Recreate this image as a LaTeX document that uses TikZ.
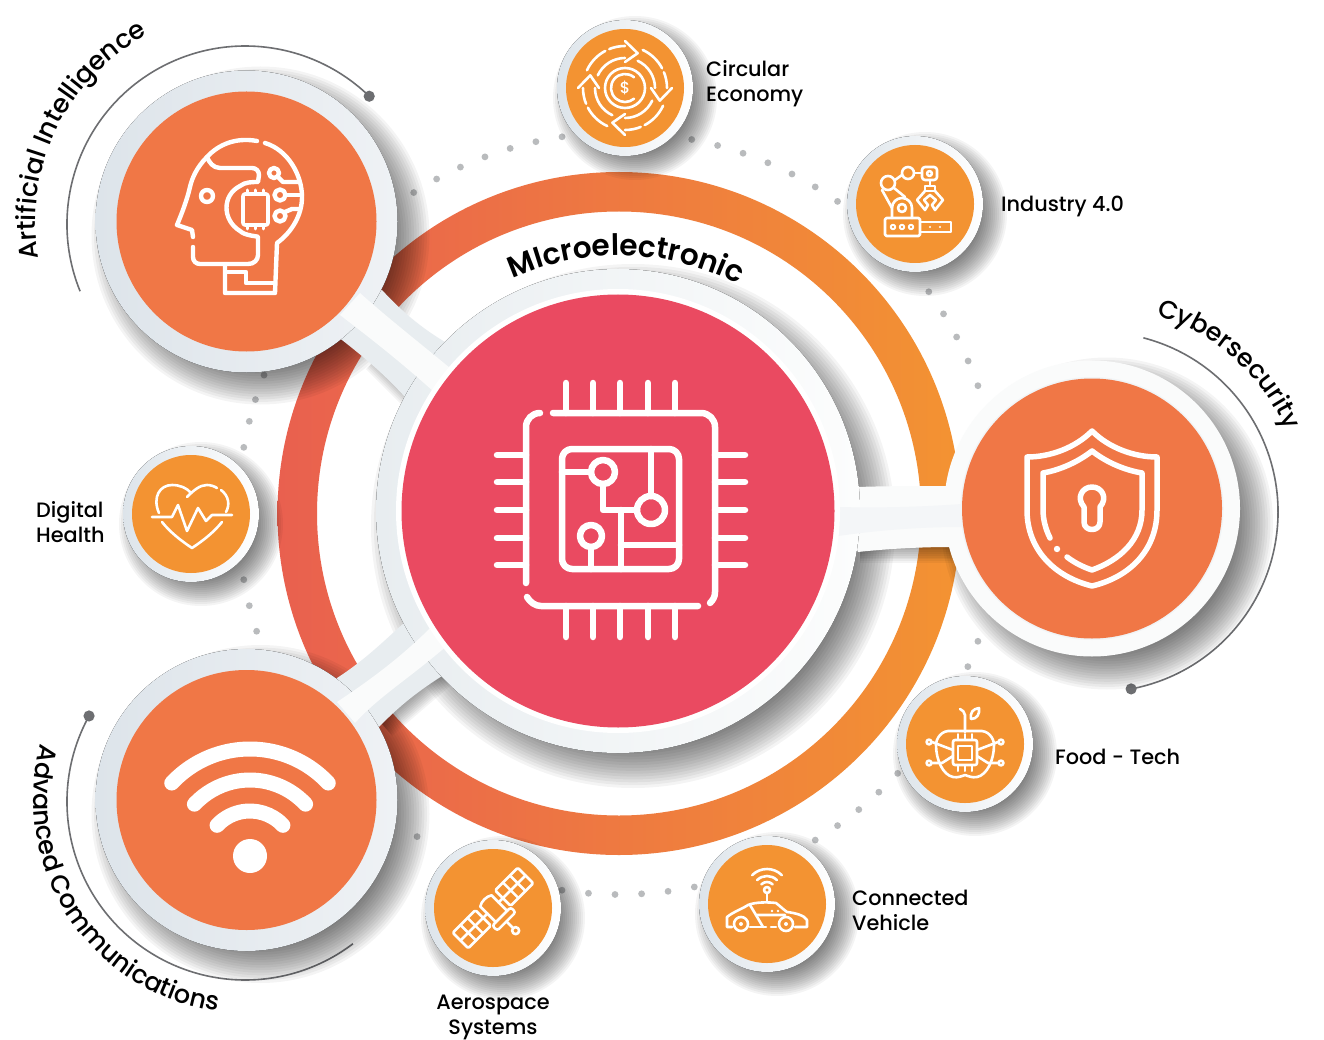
\documentclass[tikz,border=0pt]{standalone}
\usepackage{fontspec}
\setmainfont{Poppins Medium}
\newfontfamily\hubfamily{Poppins SemiBold}
\usetikzlibrary{decorations.text}
\definecolor{bigorange}{HTML}{F07746}
\definecolor{smallorange}{HTML}{F39332}
\definecolor{ringcoral}{HTML}{E9604F}
\definecolor{chipred}{HTML}{EA4A61}
\definecolor{ringleft}{HTML}{DDE4EA}
\definecolor{ringright}{HTML}{EFF2F5}
\definecolor{hubleft}{HTML}{E8EDF0}
\definecolor{hubright}{HTML}{FCFDFD}
\definecolor{bandgrey}{HTML}{E8EDF0}
\definecolor{stripewhite}{HTML}{FAFBFB}
\definecolor{dotgrey}{HTML}{B9BBBD}
\definecolor{arcgrey}{HTML}{6D6E71}
\tikzset{
  bigring/.style={left color=ringleft,right color=ringright},
  hubring/.style={left color=hubleft,right color=hubright},
  smallring/.style={left color=ringleft,right color=white},
  icon/.style={draw=white,line width=6.5pt,line cap=round,line join=round},
  headicon/.style={draw=white,line width=4.4pt,line cap=round,line join=round},
  tinyicon/.style={draw=white,line width=2.6pt,line cap=round,line join=round},
  thinarc/.style={draw=arcgrey,line width=1.6pt},
  tag/.style={font=\fontsize{20.8}{25}\selectfont,align=left,anchor=west,inner sep=0pt},
}
\newcommand{\softshadow}[4]{\foreach \k in {0,...,14} {\fill[black,opacity=.045] ([shift={(#3,-#3)}]#1) circle ({#2+#4-\k*2*#4/14});}}
\newcommand{\spokeshadow}[3]{\foreach \k in {0,...,10} {\draw[black,opacity=.045,line width={#3+18-\k*3.6}] #1 -- #2;}}
\newcommand{\curvefont}{\fontsize{25.5}{26}\selectfont}
\newcommand{\mindfont}{\fontsize{26}{26}\selectfont}
\newcommand{\hubfont}{\hubfamily\fontsize{29.5}{31}\selectfont}
\begin{document}
\begin{tikzpicture}[x=1pt,y=1pt]
\useasboundingbox (0,0) rectangle (1324,-1040);
\fill[white] (0,0) rectangle (1324,-1040);

\coordinate (hub) at (618,-511);
\coordinate (loop) at (619,-513.5);
\coordinate (mind) at (246.5,-221.5);
\coordinate (wifi) at (246.5,-800);
\coordinate (shield) at (1092,-508.5);
\coordinate (mindarc) at (245.2,-224.2);
\coordinate (wifiarc) at (245.2,-801.8);
\coordinate (shieldarc) at (1098,-512);
\coordinate (circular) at (625,-88);
\coordinate (industry) at (915,-204);
\coordinate (health) at (191,-514);
\coordinate (food) at (965,-744);
\coordinate (vehicle) at (767,-904);
\coordinate (space) at (493,-908);

\foreach \a in {98.6,102.6,...,123,55,59,...,79,19.6,23.6,...,36,-23.7,-19.6,-59,-55,...,-42,-98.6,-94.6,...,-78,-122,162.6,158.7,166,170,190,194,198}
  \fill[dotgrey] (loop) ++(\a:381) circle (3.4);

\shade[left color=ringcoral,right color=smallorange,even odd rule] (loop) circle (341.5) (loop) circle (302);

\draw[thinarc] (mindarc) ++(202.1:178.2) arc (202.1:45.9:178.2);
\fill[arcgrey] (mindarc) ++(45.9:178.2) circle (5.6);
\draw[thinarc] (shieldarc) ++(75.4:180) arc (75.4:-79.4:180);
\fill[arcgrey] (shieldarc) ++(-79.4:180) circle (5.6);
\draw[thinarc] (wifiarc) ++(151.2:178.2) arc (151.2:307.2:178.2);
\fill[arcgrey] (wifiarc) ++(151.2:178.2) circle (5.6);

\spokeshadow{(390,-345)}{(430,-385)}{50}
\spokeshadow{(860,-526)}{(960,-526)}{56}
\spokeshadow{(370,-710)}{(440,-650)}{50}
\softshadow{mind}{151}{14}{18}
\softshadow{wifi}{151}{14}{18}
\softshadow{hub}{242}{15}{20}
\softshadow{shield}{148}{15}{18}
\softshadow{circular}{68}{10}{14}
\softshadow{industry}{68}{10}{14}
\softshadow{health}{68}{10}{14}
\softshadow{food}{68}{10}{14}
\softshadow{vehicle}{68}{10}{14}
\softshadow{space}{68}{10}{14}

\fill[bandgrey] (382,-290) .. controls (405,-315) and (425,-330) .. (445,-342) -- (460,-380) -- (405,-397) .. controls (385,-375) and (365,-358) .. (342,-340) -- (310,-320) -- cycle;
\fill[bandgrey] (337,-678) .. controls (365,-660) and (385,-640) .. (405,-622) -- (460,-640) -- (442,-676) .. controls (420,-690) and (400,-705) .. (378,-728) -- (310,-720) -- cycle;
\fill[stripewhite] (858,-487) .. controls (885,-486) and (920,-486) .. (947,-486) -- (970,-510) -- (949,-547) .. controls (920,-547) and (885,-549) .. (858,-552) -- (845,-520) -- cycle;

\fill[hubring] (hub) circle (242);
\fill[bigring] (mind) circle (151);
\fill[bigring] (wifi) circle (151);
\fill[stripewhite] (shield) circle (148);

\fill[stripewhite] (360,-293) .. controls (390,-320) and (425,-347) .. (462,-378) -- (445,-402) .. controls (405,-365) and (370,-338) .. (340,-315) -- cycle;
\fill[stripewhite] (337,-702) .. controls (370,-680) and (405,-655) .. (442,-616) -- (458,-636) .. controls (415,-675) and (380,-695) .. (355,-723) -- cycle;
\fill[bandgrey!50!white] (838,-507) .. controls (880,-508) and (920,-507) .. (962,-504) -- (962,-527) .. controls (920,-527) and (880,-530) .. (838,-536) -- cycle;

\fill[white] (hub) circle (222);
\fill[chipred] (hub) circle (216.5);
\fill[bigorange] (mind) circle (130);
\fill[bigorange] (wifi) circle (130);
\fill[bandgrey!60!white] (shield) circle (131.5);
\fill[bigorange] (shield) circle (130);

\foreach \p in {circular,industry,health,food,vehicle,space} {
  \fill[smallring] (\p) circle (68);
  \fill[smallorange] (\p) circle (59);
}

\foreach \x in {566,593,620,648,675} {
  \draw[icon] (\x,-383) -- (\x,-413);
  \draw[icon] (\x,-606) -- (\x,-637);
}
\foreach \y in {455,482,510,538,565} {
  \draw[icon] (497,-\y) -- (526,-\y);
  \draw[icon] (715,-\y) -- (745,-\y);
}
\draw[icon] (553,-413) -- (701,-413) arc (90:0:14) -- (715,-592) .. controls (715,-597) and (713,-600) .. (710,-603);
\draw[icon] (698,-606) -- (541,-606) .. controls (535,-606) and (530,-602) .. (527,-597);
\draw[icon] (526,-583) -- (526,-427) arc (180:90:14);
\draw[icon,rounded corners=10pt] (562,-449) rectangle (679,-569);
\draw[icon] (603,-472) circle (12);
\draw[icon] (562,-472) -- (591,-472);
\draw[icon] (603,-484) -- (603,-510) -- (637,-510);
\draw[icon] (651,-510) circle (14);
\draw[icon] (651,-449) -- (651,-496);
\draw[icon] (621,-510) -- (621,-569);
\draw[icon] (621,-545) -- (679,-545);
\draw[icon] (591,-536) circle (11);
\draw[icon] (591,-547) -- (591,-569);

\draw[headicon] (257,-141) .. controls (235,-137) and (218,-145) .. (207,-157) .. controls (197,-167) and (192,-178) .. (190,-187) .. controls (187,-200) and (182,-213) .. (177,-225) -- (192,-230) -- (193,-237);
\draw[headicon] (193,-247) -- (193,-257) .. controls (193,-261) and (196,-264) .. (200,-264) -- (248,-264) .. controls (254,-264) and (258,-260) .. (258,-255) -- (258,-237) .. controls (258,-236) and (245,-236) .. (240,-231) .. controls (222,-220) and (222,-195) .. (240,-186) .. controls (245,-182) and (252,-182) .. (258,-182) -- (259,-175) .. controls (259,-171) and (256,-168) .. (252,-168) -- (220,-168) .. controls (213,-168) and (209,-162) .. (207,-157);
\draw[headicon] (265,-143) .. controls (288,-150) and (302,-175) .. (302,-197) .. controls (302,-215) and (292,-232) .. (277,-243) -- (275,-293) -- (225,-293) -- (225,-265);
\draw[headicon] (227,-272) -- (246,-272) -- (246,-283) -- (275,-283);
\draw[headicon,line width=3.6pt,rounded corners=2pt] (243,-194) rectangle (268,-225);
\foreach \x in {247,255,263} {
  \draw[headicon,line width=3pt] (\x,-190) -- (\x,-194);
  \draw[headicon,line width=3pt] (\x,-225) -- (\x,-229);
}
\draw[headicon] (274,-173) circle (5);
\draw[headicon] (278,-177) -- (283,-182) -- (298,-182);
\draw[headicon] (280,-195) circle (5.5);
\draw[headicon] (286,-195) -- (302,-195);
\draw[headicon] (280,-216) circle (5.5);
\draw[headicon] (285,-212) -- (292,-209) -- (300,-209);
\draw[headicon] (207,-196) circle (6);

\fill[white] (250,-856) circle (17);
\draw[icon,line width=15pt] (250,-856) ++(43:107) arc (43:137:107);
\draw[icon,line width=15pt] (250,-856) ++(43:76) arc (43:137:76);
\draw[icon,line width=15pt] (250,-856) ++(43:45) arc (43:137:45);

\draw[icon,line width=5.5pt] (1092,-431) .. controls (1075,-448) and (1050,-457) .. (1027,-457) -- (1027,-510) .. controls (1027,-550) and (1055,-577) .. (1092,-586) .. controls (1130,-577) and (1157,-550) .. (1157,-510) -- (1157,-457) .. controls (1134,-457) and (1109,-448) .. (1092,-431) -- cycle;
\draw[icon,line width=5.5pt] (1050,-538) .. controls (1045,-528) and (1043,-518) .. (1043,-510) -- (1043,-473) .. controls (1060,-470) and (1078,-462) .. (1092,-451) .. controls (1106,-462) and (1124,-470) .. (1142,-473) -- (1142,-510) .. controls (1142,-540) and (1120,-560) .. (1092,-570) .. controls (1083,-567) and (1075,-563) .. (1067,-557);
\fill[white] (1057,-549) circle (3.2);
\draw[icon,line width=5.5pt] (1084,-507) .. controls (1076,-498) and (1082,-487) .. (1092,-487) .. controls (1102,-487) and (1108,-498) .. (1100,-507) -- (1100,-522) .. controls (1100,-532) and (1084,-532) .. (1084,-522) -- cycle;

\foreach \r in {0,-90,-180,-270} {
  \begin{scope}[shift={(circular)},rotate=\r]
    \draw[tinyicon] (155:42) arc (155:118:42);
    \draw[tinyicon] (112:42) arc (112:90:42);
    \draw[tinyicon] (155:30) arc (155:90:30);
    \draw[tinyicon] (90:47) -- (70:37) -- (90:26);
  \end{scope}
}
\draw[tinyicon] (circular) circle (20);
\draw[tinyicon] (circular) ++(50:14) arc (50:310:14);
\node[text=white,font=\fontsize{16}{16}\selectfont,inner sep=0pt] (dollar) at (circular) {\$};

\draw[tinyicon] (888,-183) circle (7);
\draw[tinyicon] (882,-190) -- (892,-208);
\draw[tinyicon] (895,-180) -- (902,-175);
\draw[tinyicon] (894,-188) -- (905,-197);
\draw[tinyicon] (908,-173) circle (6);
\draw[tinyicon] (914,-173) -- (922,-173);
\draw[tinyicon,rounded corners=3pt] (922,-167) rectangle (937,-180);
\draw[tinyicon] (929.5,-173.5) circle (2.4);
\draw[tinyicon] (930,-180) -- (930,-186);
\draw[tinyicon] (925,-186) rectangle (935,-191);
\draw[tinyicon] (925,-191) -- (917,-200) -- (925,-210) -- (928,-205) -- (924,-200) -- (930,-195) -- (936,-200) -- (932,-205) -- (935,-210) -- (943,-200) -- (935,-191);
\draw[tinyicon] (892,-218) -- (892,-208) arc (180:0:10) -- (912,-218);
\draw[tinyicon] (902,-208) circle (4);
\draw[tinyicon,rounded corners=1.5pt] (885,-218) rectangle (920,-236);
\foreach \x in {893,902,911} \draw[tinyicon,line width=2pt] (\x,-227) circle (2.2);
\draw[tinyicon] (921,-222) -- (951,-222) -- (951,-232) -- (921,-232);
\foreach \x in {930,940} \fill[white] (\x,-227) circle (1.2);

\draw[tinyicon] (159,-513) .. controls (152,-497) and (160,-485) .. (172,-485) .. controls (180,-485) and (187,-488) .. (191,-493);
\draw[tinyicon] (187,-497) .. controls (194,-490) and (200,-485) .. (207,-485) .. controls (210,-485) and (214,-486) .. (217,-488);
\draw[tinyicon] (221,-490) .. controls (229,-496) and (230,-505) .. (226,-512);
\draw[tinyicon] (152,-517) -- (172,-517) -- (178,-505) -- (187,-531) -- (198,-508) -- (206,-521) -- (212,-515) -- (232,-515);
\draw[tinyicon] (162,-522) .. controls (170,-532) and (180,-540) .. (192,-548) .. controls (204,-540) and (214,-532) .. (222,-522);

\draw[tinyicon,rounded corners=2pt] (953,-740) rectangle (977,-765);
\draw[tinyicon] (958,-746) rectangle (972,-760);
\foreach \x in {958,965,972} {
  \draw[tinyicon,line width=2pt] (\x,-734) -- (\x,-740);
  \draw[tinyicon,line width=2pt] (\x,-765) -- (\x,-771);
}
\draw[tinyicon] (951,-731) .. controls (942,-730) and (936,-738) .. (936,-745) .. controls (936,-760) and (943,-775) .. (953,-777) .. controls (958,-778) and (962,-776) .. (965,-775) .. controls (968,-776) and (972,-778) .. (977,-777) .. controls (987,-775) and (994,-760) .. (994,-745) .. controls (994,-738) and (988,-730) .. (979,-731) -- (951,-731);
\draw[tinyicon] (965,-732) -- (965,-715) .. controls (965,-712) and (962,-710) .. (960,-709);
\draw[tinyicon] (971,-719) .. controls (970,-712) and (973,-709) .. (979,-708) .. controls (980,-714) and (977,-719) .. (971,-719);
\draw[tinyicon] (929,-742) circle (2.4);
\draw[tinyicon] (1001,-742) circle (2.4);
\draw[tinyicon] (929,-763) circle (2.4);
\draw[tinyicon] (1001,-763) circle (2.4);
\draw[tinyicon] (932,-742) -- (953,-750);
\draw[tinyicon] (998,-742) -- (977,-750);
\draw[tinyicon] (932,-763) -- (942,-763) -- (953,-756);
\draw[tinyicon] (998,-763) -- (988,-763) -- (977,-756);

\draw[tinyicon] (741,-924) circle (7);
\draw[tinyicon] (786,-924) circle (7);
\fill[white] (741,-924) circle (2);
\fill[white] (786,-924) circle (2);
\draw[tinyicon] (732,-927) -- (727,-927) -- (727,-917) .. controls (733,-912) and (742,-909) .. (748,-905) .. controls (755,-902) and (768,-902) .. (776,-903) .. controls (780,-906) and (784,-910) .. (787,-912) .. controls (795,-913) and (804,-915) .. (807,-920) -- (807,-927) -- (795,-927);
\draw[tinyicon] (750,-927) -- (766,-927);
\draw[tinyicon] (771,-927) -- (776,-927);
\draw[tinyicon] (750,-905) -- (756,-915) -- (785,-915);
\draw[tinyicon] (756,-915) -- (763,-927);
\fill[white] (772,-911) circle (1.3);
\fill[white] (778,-911) circle (1.3);
\draw[tinyicon] (767,-890) circle (3);
\draw[tinyicon] (767,-893) -- (767,-901);
\foreach \r in {8,14,21} \draw[tinyicon] (767,-890) ++(45:\r) arc (45:135:\r);

\begin{scope}[shift={(space)},rotate=45]
  \draw[tinyicon,rounded corners=1.5pt] (14,-11) rectangle (46,11);
  \draw[tinyicon,rounded corners=1.5pt] (-46,-11) rectangle (-14,11);
  \draw[tinyicon] (25,-11) -- (25,11);
  \draw[tinyicon] (35,-11) -- (35,11);
  \draw[tinyicon] (14,0) -- (46,0);
  \draw[tinyicon] (-25,-11) -- (-25,11);
  \draw[tinyicon] (-35,-11) -- (-35,11);
  \draw[tinyicon] (-14,0) -- (-46,0);
  \draw[tinyicon] (-14,0) -- (-8,0);
  \draw[tinyicon] (8,0) -- (14,0);
  \draw[tinyicon] (-8,-12) -- (-8,10) .. controls (-4,13) and (4,13) .. (8,10) -- (8,-12);
  \draw[tinyicon,rounded corners=2.5pt] (-13,-12) rectangle (13,-19);
  \draw[tinyicon] (0,-19) -- (0,-28);
  \draw[tinyicon] (0,-32) circle (3.5);
\end{scope}

\path[decorate,decoration={text along path,text align=center,text={|\mindfont|Artificial Intelligence}}] (mind) ++(204:211) arc (204:104:211);
\path[decorate,decoration={text along path,text align=center,text={|\curvefont|Cybersecurity}}] (shieldarc) ++(88:205) arc (88:9:205);
\path[decorate,decoration={text along path,text align=center,text={|\curvefont|Advanced Communications}}] (wifi) ++(145:213) arc (145:282:213);
\path[decorate,decoration={text along path,text align=center,text={|\hubfont|MIcroelectronic}}] (loop) ++(128:258) arc (128:48.8:258);

\node[tag] (circulartag) at (706,-83.5) {Circular\\Economy};
\node[tag] (industrytag) at (1001,-206) {Industry 4.0};
\node[tag] (healthtag) at (36,-522) {Digital\\Health};
\node[tag] (foodtag) at (1055,-757) {Food - Tech};
\node[tag] (vehicletag) at (852,-910) {Connected\\Vehicle};
\node[tag,align=center,anchor=center] (spacetag) at (493,-1017) {Aerospace\\Systems};
\end{tikzpicture}
\end{document}
